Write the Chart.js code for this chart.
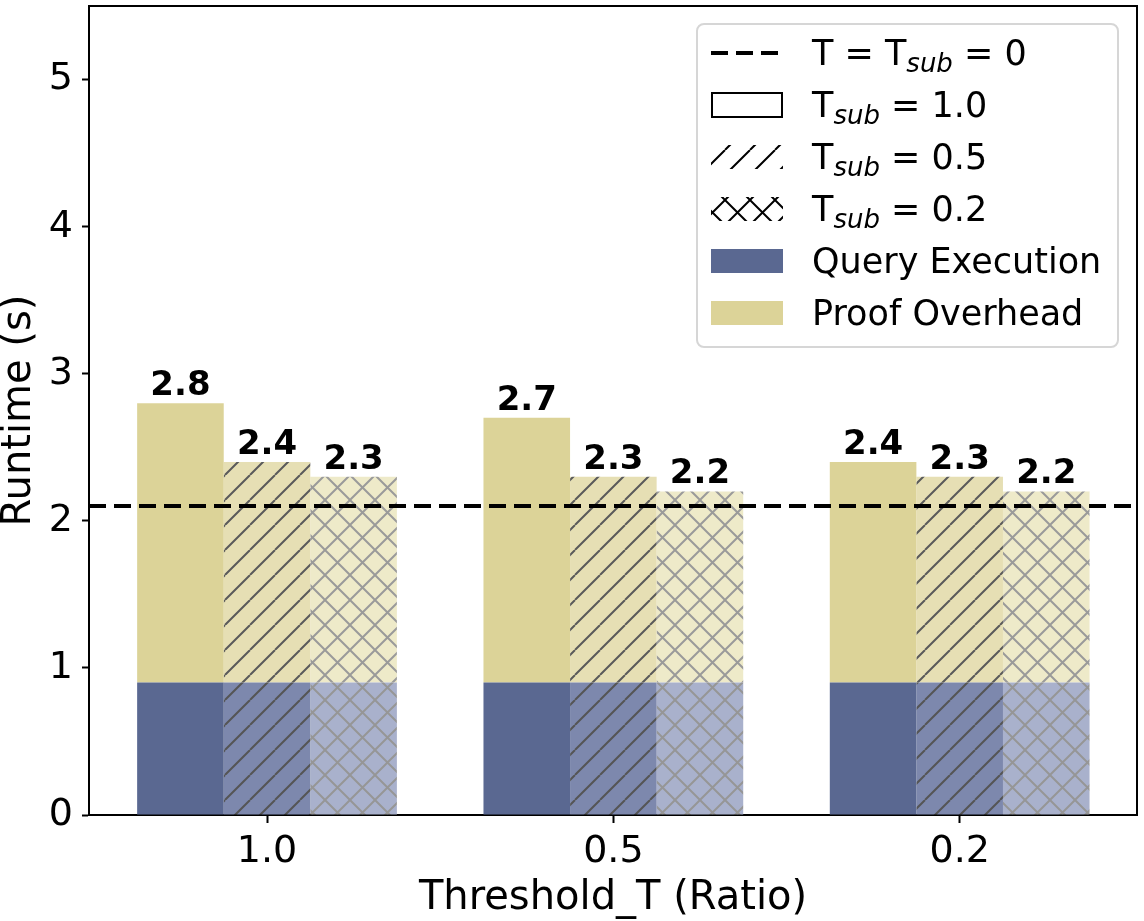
<!DOCTYPE html>
<html><head><meta charset="utf-8">
<script src="https://cdn.jsdelivr.net/npm/chart.js@4.4.0/dist/chart.umd.min.js"></script>
<style>html,body{margin:0;padding:0;background:#fff;}canvas{display:block;}</style>
</head><body>
<canvas id="c" width="1144" height="921"></canvas>
<script>
// ---- data ----
const thresholds = ['1.0', '0.5', '0.2'];          // Threshold_T (Ratio), one group per value
const queryExecTsub10 = [0.9, 0.9, 0.9];
const proofOverTsub10 = [1.9, 1.8, 1.5];
const queryExecTsub05 = [0.9, 0.9, 0.9];
const proofOverTsub05 = [1.5, 1.4, 1.4];
const queryExecTsub02 = [0.9, 0.9, 0.9];
const proofOverTsub02 = [1.4, 1.3, 1.3];
const baselineRuntime = [2.1];                     // T = T_sub = 0
const yTickValues = [0, 1, 2, 3, 4, 5];

const FONT = "'DejaVu Sans', sans-serif";

// ---- hatch patterns ----
const tmpCtx = document.createElement('canvas').getContext('2d');
function pat(bg, lc, kind) {
  const s = 25;
  const c = document.createElement('canvas'); c.width = s; c.height = s;
  const g = c.getContext('2d');
  if (bg) { g.fillStyle = bg; g.fillRect(0, 0, s, s); }
  g.strokeStyle = lc; g.lineWidth = 2; g.beginPath();
  for (let k = -1; k <= 1; k++) {
    g.moveTo(k * s, s); g.lineTo(k * s + s, 0);
    if (kind === 'x') { g.moveTo(k * s, 0); g.lineTo(k * s + s, s); }
  }
  g.stroke();
  return tmpCtx.createPattern(c, 'repeat');
}

const QE_SOLID = '#5a6891', PO_SOLID = '#dcd398';
const QE_HATCH = pat('#7d88ad', '#555555', '/');
const PO_HATCH = pat('#e6dfb4', '#5a5a5a', '/');
const QE_CROSS = pat('#a9b1cc', '#969696', 'x');
const PO_CROSS = pat('#eeeac9', '#9a9a9a', 'x');
const LEG_HATCH = pat('#ffffff', '#000000', '/');
const LEG_CROSS = pat('#ffffff', '#000000', 'x');

const pts = arr => arr.map((v, i) => ({ x: i, y: v }));

const datasets = [
  { label: 'Query Execution', role: 'qe', data: pts(queryExecTsub10), stack: 's10', backgroundColor: QE_SOLID },
  { label: 'Proof Overhead', role: 'po', data: pts(proofOverTsub10), base: queryExecTsub10, top: proofOverTsub10, stack: 's10', backgroundColor: PO_SOLID },
  { label: 'Query Execution', role: 'qe', data: pts(queryExecTsub05), stack: 's05', backgroundColor: QE_HATCH },
  { label: 'Proof Overhead', role: 'po', data: pts(proofOverTsub05), base: queryExecTsub05, top: proofOverTsub05, stack: 's05', backgroundColor: PO_HATCH },
  { label: 'Query Execution', role: 'qe', data: pts(queryExecTsub02), stack: 's02', backgroundColor: QE_CROSS },
  { label: 'Proof Overhead', role: 'po', data: pts(proofOverTsub02), base: queryExecTsub02, top: proofOverTsub02, stack: 's02', backgroundColor: PO_CROSS },
];

// ---- plugins ----
const framePlugin = {
  id: 'frame',
  afterDatasetsDraw(chart) {
    const { ctx, chartArea: a, scales } = chart;
    const y = scales.y.getPixelForValue(baselineRuntime[0]);
    ctx.save();
    ctx.strokeStyle = '#000'; ctx.lineWidth = 4; ctx.setLineDash([17, 8]);
    ctx.beginPath(); ctx.moveTo(a.left, y); ctx.lineTo(a.right, y); ctx.stroke();
    ctx.restore();
    ctx.save();
    ctx.font = "bold 34px " + FONT; ctx.fillStyle = '#000';
    ctx.textAlign = 'center'; ctx.textBaseline = 'alphabetic';
    chart.data.datasets.forEach((ds, i) => {
      if (ds.role !== 'po') return;
      const meta = chart.getDatasetMeta(i);
      meta.data.forEach((el, j) => {
        const total = ds.top[j] + ds.base[j];
        ctx.fillText(total.toFixed(1), el.x, el.y - 8);
      });
    });
    ctx.restore();
    ctx.save();
    ctx.strokeStyle = '#000'; ctx.lineWidth = 2;
    ctx.beginPath();
    ctx.moveTo(a.left, a.top); ctx.lineTo(a.right, a.top); ctx.lineTo(a.right, a.bottom);
    ctx.stroke();
    ctx.restore();
  },
  afterDraw(chart) {
    const ctx = chart.ctx;
    const bx = 697, by = 24, bw = 421, bh = 323;
    ctx.save();
    ctx.fillStyle = 'rgba(255,255,255,0.9)';
    ctx.strokeStyle = '#d6d6d6'; ctx.lineWidth = 2;
    ctx.beginPath(); ctx.roundRect(bx, by, bw, bh, 7); ctx.fill(); ctx.stroke();
    const entries = [
      { kind: 'dash', parts: [['T = T', 0], ['sub', 1], [' = 0', 0]] },
      { kind: 'empty', parts: [['T', 0], ['sub', 1], [' = 1.0', 0]] },
      { kind: 'hatch', parts: [['T', 0], ['sub', 1], [' = 0.5', 0]] },
      { kind: 'cross', parts: [['T', 0], ['sub', 1], [' = 0.2', 0]] },
      { kind: 'qe', parts: [['Query Execution', 0]] },
      { kind: 'po', parts: [['Proof Overhead', 0]] },
    ];
    const hx = 711, hw = 72, hh = 24, tx = 812;
    entries.forEach((e, i) => {
      const cy = 53 + i * 52;
      if (e.kind === 'dash') {
        ctx.strokeStyle = '#000'; ctx.lineWidth = 4; ctx.setLineDash([17, 8]);
        ctx.beginPath(); ctx.moveTo(hx, cy); ctx.lineTo(hx + hw, cy); ctx.stroke();
        ctx.setLineDash([]);
      } else if (e.kind === 'empty') {
        ctx.strokeStyle = '#000'; ctx.lineWidth = 2;
        ctx.strokeRect(hx + 1, cy - hh / 2, hw - 2, hh);
      } else {
        ctx.fillStyle = e.kind === 'hatch' ? LEG_HATCH : e.kind === 'cross' ? LEG_CROSS : e.kind === 'qe' ? QE_SOLID : PO_SOLID;
        ctx.fillRect(hx, cy - hh / 2, hw, hh);
      }
      let x = tx;
      ctx.fillStyle = '#000'; ctx.textAlign = 'left'; ctx.textBaseline = 'alphabetic';
      e.parts.forEach(([t, sub]) => {
        ctx.font = sub ? "italic 26px " + FONT : "35px " + FONT;
        ctx.fillText(t, x, cy + 12 + (sub ? 7 : 0));
        x += ctx.measureText(t).width;
      });
    });
    ctx.restore();
  }
};

function zeroPad(s) { s.paddingTop = 0; s.paddingBottom = 0; s.paddingLeft = 0; s.paddingRight = 0; }

new Chart(document.getElementById('c'), {
  type: 'bar',
  data: { datasets },
  plugins: [framePlugin],
  options: {
    responsive: false, animation: false, devicePixelRatio: 1,
    layout: { padding: { top: 6, right: 7, left: 0, bottom: 0 } },
    plugins: { legend: { display: false }, tooltip: { enabled: false } },
    datasets: { bar: { categoryPercentage: 0.75, barPercentage: 1, borderWidth: 0 } },
    scales: {
      x: {
        type: 'linear', stacked: true, min: -0.514, max: 2.512, offset: false,
        afterBuildTicks(s) { s.ticks = thresholds.map((_, i) => ({ value: i })); },
        grid: { offset: false, drawOnChartArea: false, tickLength: 8, tickWidth: 2, tickColor: '#000' },
        border: { color: '#000', width: 2 },
        ticks: { font: { family: FONT, size: 38 }, color: '#000', padding: 6,
                 callback: v => thresholds[v] },
        title: { display: true, text: 'Threshold_T (Ratio)', color: '#000',
                 font: { family: FONT, size: 40, lineHeight: 1 }, padding: { top: 0, bottom: 2 } },
        afterFit(s) { s.height = 106; zeroPad(s); }
      },
      y: {
        stacked: true, min: 0, max: 5.5,
        afterBuildTicks(s) { s.ticks = yTickValues.map(v => ({ value: v })); },
        grid: { drawOnChartArea: false, tickLength: 7, tickWidth: 2, tickColor: '#000' },
        border: { color: '#000', width: 2 },
        ticks: { font: { family: FONT, size: 38 }, color: '#000', padding: 9 },
        title: { display: true, text: 'Runtime (s)', color: '#000',
                 font: { family: FONT, size: 40, lineHeight: 1 }, padding: { top: 0, bottom: 0 } },
        afterFit(s) { s.width = 89; zeroPad(s); }
      }
    }
  }
});
</script>
</body></html>
